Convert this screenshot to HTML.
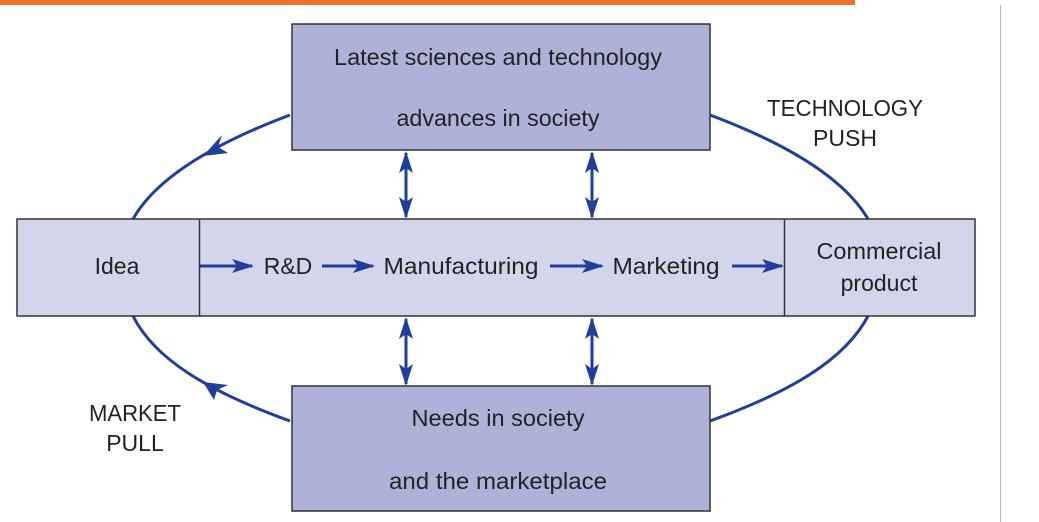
<!DOCTYPE html>
<html><head><meta charset="utf-8"><style>
html,body{margin:0;padding:0;background:#fff;width:1039px;height:522px;overflow:hidden}
svg text{font-family:"Liberation Sans Narrow","Liberation Sans",sans-serif;font-size:23px;fill:#222}
</style></head><body>
<svg width="1039" height="522" viewBox="0 0 1039 522" xmlns="http://www.w3.org/2000/svg">
<defs>
<marker id="b" markerWidth="22" markerHeight="14" refX="20" refY="7" orient="auto" markerUnits="userSpaceOnUse">
<path d="M0,0 L22,7 L0,14 L5,7 Z" fill="#1f3f9a"/></marker>
<marker id="bs" markerWidth="22" markerHeight="14" refX="2" refY="7" orient="auto" markerUnits="userSpaceOnUse">
<path d="M22,0 L0,7 L22,14 L17,7 Z" fill="#1f3f9a"/></marker>
</defs>
<rect x="0" y="0" width="855" height="5" fill="#ee6f2d"/>
<line x1="1000.5" y1="5" x2="1000.5" y2="522" stroke="#bbb" stroke-width="1"/>
<g fill="none" stroke="#1f3f9a" stroke-width="3">
<path d="M290,115 C210,145 155,180 133,219"/>
<path d="M710,115 C790,145 845,180 868,219"/>
<path d="M133,316 C155,360 210,392 290,421"/>
<path d="M868,316 C845,360 790,392 710,421"/>
</g>
<path d="M203,156 L222,135 L218,147 L228,153 Z" fill="#1f3f9a"/>
<path d="M203,382 L228,385 L217,390 L214,400 Z" fill="#1f3f9a"/>
<rect x="17" y="219" width="958" height="97" fill="#d3d6ea" stroke="#333" stroke-width="1.5"/>
<line x1="199.5" y1="219" x2="199.5" y2="316" stroke="#333" stroke-width="1.5"/>
<line x1="784.5" y1="219" x2="784.5" y2="316" stroke="#333" stroke-width="1.5"/>
<rect x="292" y="24" width="418" height="126" fill="#afb2d8" stroke="#333" stroke-width="1.5"/>
<rect x="292" y="386" width="418" height="125" fill="#afb2d8" stroke="#333" stroke-width="1.5"/>
<g stroke="#1f3f9a" stroke-width="3" fill="none">
<line x1="406" y1="153" x2="406" y2="217" marker-start="url(#bs)" marker-end="url(#b)"/>
<line x1="592" y1="153" x2="592" y2="217" marker-start="url(#bs)" marker-end="url(#b)"/>
<line x1="406" y1="319" x2="406" y2="384" marker-start="url(#bs)" marker-end="url(#b)"/>
<line x1="592" y1="319" x2="592" y2="384" marker-start="url(#bs)" marker-end="url(#b)"/>
<line x1="200" y1="266" x2="252" y2="266" marker-end="url(#b)"/>
<line x1="322" y1="266" x2="373" y2="266" marker-end="url(#b)"/>
<line x1="550" y1="266" x2="602" y2="266" marker-end="url(#b)"/>
<line x1="732" y1="266" x2="782" y2="266" marker-end="url(#b)"/>
</g>
<text x="498" y="65" text-anchor="middle" textLength="328" lengthAdjust="spacingAndGlyphs">Latest sciences and technology</text>
<text x="498" y="126" text-anchor="middle" textLength="203" lengthAdjust="spacingAndGlyphs">advances in society</text>
<text x="498" y="426" text-anchor="middle" textLength="173" lengthAdjust="spacingAndGlyphs">Needs in society</text>
<text x="498" y="489" text-anchor="middle" textLength="218" lengthAdjust="spacingAndGlyphs">and the marketplace</text>
<text x="117" y="274" text-anchor="middle">Idea</text>
<text x="288" y="274" text-anchor="middle">R&amp;D</text>
<text x="461" y="274" text-anchor="middle" textLength="155" lengthAdjust="spacingAndGlyphs">Manufacturing</text>
<text x="666" y="274" text-anchor="middle" textLength="107" lengthAdjust="spacingAndGlyphs">Marketing</text>
<text x="879" y="259" text-anchor="middle" textLength="125" lengthAdjust="spacingAndGlyphs">Commercial</text>
<text x="879" y="291" text-anchor="middle">product</text>
<text x="845" y="116" text-anchor="middle" textLength="156" lengthAdjust="spacingAndGlyphs">TECHNOLOGY</text>
<text x="845" y="146" text-anchor="middle">PUSH</text>
<text x="135" y="421" text-anchor="middle" textLength="92" lengthAdjust="spacingAndGlyphs">MARKET</text>
<text x="135" y="451" text-anchor="middle">PULL</text>
</svg>
</body></html>
